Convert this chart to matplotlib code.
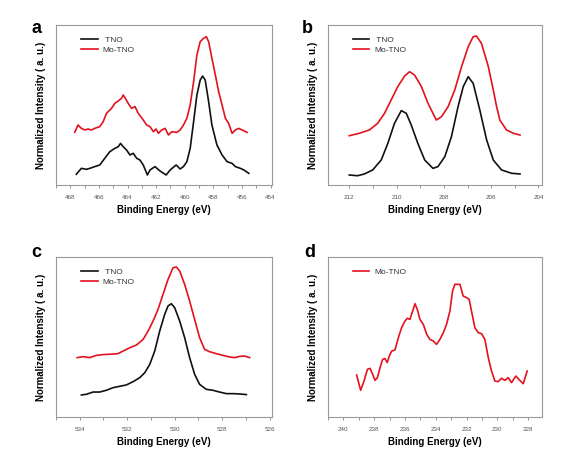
import matplotlib
matplotlib.use("Agg")
from matplotlib import pyplot as plt
from matplotlib.ticker import MultipleLocator

plt.rcParams['font.family'] = ['Liberation Sans', 'DejaVu Sans']

# panel a: Ti 2p
a_tno_x = [467.58, 467.23, 466.87, 466.64, 466.29, 465.94, 465.59, 465.24, 464.89, 464.65,
           464.49, 464.30, 464.07, 463.83, 463.60, 463.36, 463.13, 462.90, 462.61, 462.43,
           462.08, 461.73, 461.30, 461.02, 460.60, 460.32, 460.09, 459.85, 459.62, 459.38,
           459.15, 458.92, 458.75, 458.57, 458.33, 458.10, 457.75, 457.39, 457.04, 456.69,
           456.46, 456.11, 455.87, 455.52]
a_tno_y = [6.7, 10.4, 9.8, 10.4, 11.5, 12.5, 16.7, 20.8, 22.9, 23.9,
           26.0, 23.9, 21.9, 18.75, 19.8, 16.7, 15.6, 12.5, 6.25, 9.4,
           11.5, 8.75, 6.25, 9.4, 12.5, 10.0, 11.5, 14.6, 22.9, 39.6,
           56.25, 65.6, 68.1, 65.6, 52.1, 37.5, 25.0, 18.75, 14.6, 13.5,
           11.5, 10.4, 9.4, 7.3]
a_mo_x = [467.69, 467.46, 467.23, 466.99, 466.76, 466.52, 466.29, 465.94, 465.70, 465.47,
          465.12, 464.89, 464.65, 464.42, 464.30, 464.18, 463.95, 463.72, 463.48, 463.25,
          462.90, 462.66, 462.43, 462.19, 462.01, 461.84, 461.61, 461.37, 461.14, 460.91,
          460.55, 460.32, 460.09, 459.85, 459.62, 459.38, 459.15, 458.92, 458.68, 458.49,
          458.33, 458.10, 457.86, 457.63, 457.39, 457.16, 456.93, 456.69, 456.46, 456.23,
          455.99, 455.64]
a_mo_y = [32.9, 37.5, 35.4, 34.4, 35.0, 34.4, 35.4, 36.5, 39.6, 44.8,
          47.9, 51.0, 52.5, 54.2, 56.25, 54.6, 51.0, 47.9, 49.0, 44.8,
          40.6, 37.5, 36.5, 33.3, 35.0, 32.3, 34.4, 35.4, 31.25, 33.3,
          32.9, 34.4, 37.5, 41.7, 50.0, 64.6, 81.25, 89.6, 91.7, 92.7,
          89.6, 79.2, 68.75, 58.3, 50.0, 41.7, 38.5, 32.3, 34.4, 35.4,
          34.4, 32.9]

# panel b: Nb 3d
b_tno_x = [212.0, 211.65, 211.36, 211.01, 210.65, 210.37, 210.09, 209.80, 209.59, 209.38,
           209.10, 208.81, 208.46, 208.25, 207.96, 207.68, 207.40, 207.18, 206.97, 206.76,
           206.48, 206.19, 205.91, 205.56, 205.13, 204.78]
b_tno_y = [6.25, 5.8, 6.9, 9.4, 15.6, 26.0, 38.5, 46.5, 44.8, 37.5,
           26.0, 15.6, 10.4, 11.5, 17.7, 30.2, 49.0, 61.5, 67.7, 63.5,
           46.9, 28.1, 15.6, 9.4, 7.3, 6.9]
b_mo_x = [212.0, 211.58, 211.15, 210.80, 210.51, 210.23, 209.95, 209.66, 209.45, 209.24,
          208.95, 208.67, 208.39, 208.32, 208.10, 207.82, 207.54, 207.25, 206.97, 206.76,
          206.62, 206.41, 206.12, 205.91, 205.77, 205.63, 205.35, 205.06, 204.78]
b_mo_y = [30.8, 32.3, 34.4, 38.5, 44.8, 53.1, 61.5, 68.1, 70.8, 68.75,
          61.5, 51.0, 42.7, 40.6, 42.7, 49.0, 59.4, 74.0, 86.5, 92.7,
          93.1, 88.5, 74.0, 59.4, 49.0, 40.5, 34.4, 32.3, 31.25]

# panel c: O 1s
c_tno_x = [533.93, 533.72, 533.44, 533.16, 532.88, 532.60, 532.32, 532.04, 531.75, 531.47,
           531.26, 531.05, 530.84, 530.63, 530.42, 530.28, 530.14, 530.00, 529.79, 529.58,
           529.37, 529.16, 528.95, 528.67, 528.39, 528.11, 527.82, 527.54, 527.26, 526.98]
c_tno_y = [13.75, 14.2, 15.6, 15.6, 16.7, 18.3, 19.2, 20.0, 22.1, 24.6,
           27.7, 32.9, 41.25, 53.75, 64.2, 69.4, 70.8, 68.3, 60.0, 49.6,
           37.1, 26.7, 20.4, 17.3, 16.7, 15.6, 14.6, 14.6, 14.4, 14.0]
c_mo_x = [534.11, 533.86, 533.58, 533.30, 533.02, 532.74, 532.39, 532.11, 531.89, 531.61,
          531.33, 531.12, 530.91, 530.70, 530.49, 530.28, 530.07, 529.93, 529.79, 529.58,
          529.37, 529.16, 528.95, 528.74, 528.53, 528.25, 527.96, 527.68, 527.47, 527.26,
          527.05, 526.84]
c_mo_y = [37.1, 37.7, 37.1, 38.5, 39.0, 39.2, 39.6, 41.7, 43.3, 45.0,
          48.5, 53.75, 60.0, 67.3, 76.7, 86.0, 93.3, 93.75, 91.25, 82.9,
          72.5, 61.0, 49.6, 42.3, 40.8, 39.6, 38.5, 37.5, 37.1, 37.9,
          38.1, 37.1]

# panel d: Mo 3d
d_mo_x = [239.14, 238.88, 238.66, 238.44, 238.27, 238.10, 237.95, 237.79, 237.62, 237.45,
          237.30, 237.15, 237.02, 236.86, 236.65, 236.43, 236.22, 236.00, 235.85, 235.68,
          235.50, 235.35, 235.20, 235.03, 234.81, 234.59, 234.38, 234.16, 233.95, 233.73,
          233.51, 233.30, 233.08, 232.91, 232.76, 232.43, 232.22, 232.00, 231.83, 231.68,
          231.46, 231.24, 231.03, 230.81, 230.59, 230.38, 230.16, 229.95, 229.73, 229.51,
          229.30, 229.08, 228.80, 228.54, 228.32, 228.06]
d_mo_y = [26.25, 16.7, 22.5, 29.8, 30.4, 26.7, 22.9, 24.6, 30.8, 36.0,
          36.5, 34.0, 38.1, 41.25, 41.9, 49.6, 55.8, 60.0, 61.7, 61.0,
          66.25, 70.8, 67.3, 61.0, 57.9, 51.7, 48.5, 47.5, 45.4, 48.5,
          52.7, 57.9, 66.25, 78.75, 82.9, 82.9, 75.6, 74.6, 73.5, 66.25,
          55.8, 52.7, 52.1, 48.5, 37.1, 28.75, 22.5, 22.1, 24.2, 22.9,
          24.6, 21.5, 25.6, 22.9, 20.8, 28.75]

RED = '#e3121e'
BLACK = '#111111'

fig = plt.figure(figsize=(5.87, 4.54), dpi=100)

W, H = 587.0, 454.0
def add_panel(l, r, t, b):
    return fig.add_axes([l / W, 1 - b / H, (r - l) / W, (b - t) / H])

axa = add_panel(56, 272, 25, 185)
axb = add_panel(328, 542, 25, 185)
axc = add_panel(56, 272, 257, 417)
axd = add_panel(328, 542, 257, 417)

def style(ax, xlim):
    ax.set_xlim(*xlim)
    ax.set_ylim(0, 100)
    ax.set_yticks([])
    ax.xaxis.set_major_locator(MultipleLocator(2))
    ax.xaxis.set_minor_locator(MultipleLocator(1))
    ax.tick_params(axis='x', which='both', direction='out', length=2, width=0.6,
                   color='#888888', labelsize=4.5, labelcolor='#555555', pad=5)
    for s in ax.spines.values():
        s.set_color('#999999')
        s.set_linewidth(0.8)
    ax.set_xlabel('Binding Energy (eV)', fontsize=7, fontweight='bold', labelpad=4)
    ax.set_ylabel('Normalized Intensity ( a. u.)', fontsize=7, fontweight='bold', labelpad=7)
    ax.legend(loc='upper left', bbox_to_anchor=(0.1, 0.95), frameon=False, fontsize=6,
              handlelength=2.0, labelspacing=0.25, borderaxespad=0, handletextpad=0.6,
              labelcolor='#333333')

axa.plot(a_tno_x, a_tno_y, color=BLACK, lw=1.2, label=' TNO')
axa.plot(a_mo_x, a_mo_y, color=RED, lw=1.2, label='Mo-TNO')
style(axa, (469.0, 453.9))

axb.plot(b_tno_x, b_tno_y, color=BLACK, lw=1.2, label=' TNO')
axb.plot(b_mo_x, b_mo_y, color=RED, lw=1.2, label='Mo-TNO')
style(axb, (212.9, 203.85))

axc.plot(c_tno_x, c_tno_y, color=BLACK, lw=1.2, label=' TNO')
axc.plot(c_mo_x, c_mo_y, color=RED, lw=1.2, label='Mo-TNO')
style(axc, (535.0, 525.9))

axd.plot(d_mo_x, d_mo_y, color=RED, lw=1.2, label='Mo-TNO')
style(axd, (241.0, 227.1))

for letter, x, y in [('a', 31, 33), ('b', 302, 33), ('c', 31, 257), ('d', 304, 257)]:
    fig.text(x / W, 1 - y / H, letter, fontsize=13, fontweight='bold', va='baseline', ha='left')

fig.savefig('out.png', dpi=100)
